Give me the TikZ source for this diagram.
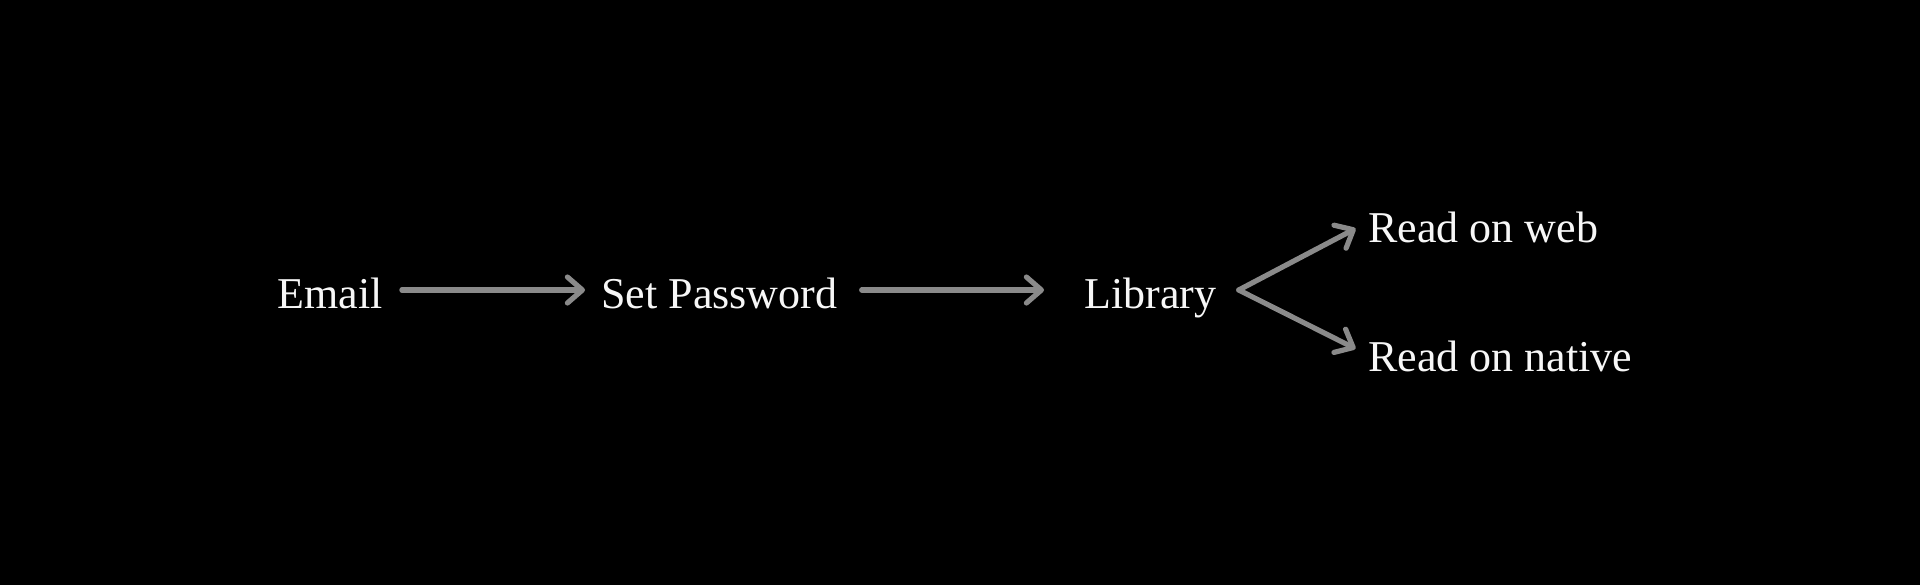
\documentclass[tikz,border=0pt]{standalone}
\usepackage{fontspec}
\setmainfont{Liberation Serif}
\usetikzlibrary{arrows.meta}
\definecolor{arrowgray}{HTML}{8A8A8A}
\definecolor{textwhite}{HTML}{F7F7F7}
\tikzset{
  lbl/.style={inner sep=0pt, text height=18pt, text depth=0pt, text=textwhite,
    font=\fontsize{22pt}{26pt}\selectfont},
  arr/.style={draw=arrowgray, line width=2.6pt, line cap=round,
    -{Straight Barb[length=7.5pt,width=13pt,line cap=round,line join=round]}}
}
\begin{document}
\begin{tikzpicture}[x=0.5pt,y=-0.5pt]
\useasboundingbox (0,0) rectangle (1920,584);
\fill[black] (-10,-10) rectangle (1930,594);
\node[lbl, anchor=base west] (email) at (277,308) {Email};
\node[lbl, anchor=base west] (setpw) at (601,308) {Set Password};
\node[lbl, anchor=base west] (library) at (1084,308) {Library};
\node[lbl, anchor=base west] (web) at (1368,242) {Read on web};
\node[lbl, anchor=base west] (native) at (1368,371) {Read on native};
\coordinate (fork) at ([xshift=11pt]library.east);
\draw[arr, shorten <=9.5pt, shorten >=8pt] (email.east) -- (setpw.west);
\draw[arr, shorten <=12pt, shorten >=20pt] (setpw.east) -- (library.west);
\draw[arr, shorten >=7pt] (fork) -- ([yshift=1pt]web.west);
\draw[arr, shorten >=7pt] (fork) -- ([yshift=-1pt]native.west);
\end{tikzpicture}
\end{document}
